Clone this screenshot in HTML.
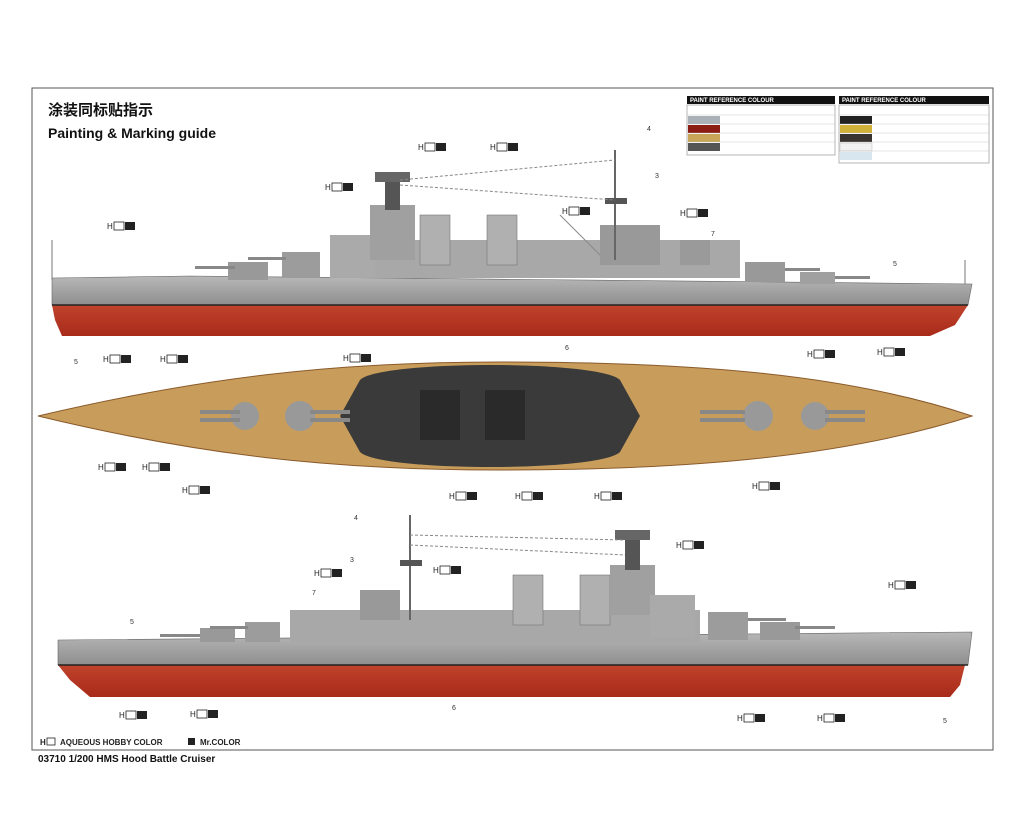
<!DOCTYPE html>
<html><head><meta charset="utf-8"><style>
body{margin:0;background:#fff;}
svg{display:block;font-family:"Liberation Sans","Noto Sans CJK SC",sans-serif;}
</style></head><body>
<svg width="1024" height="838" viewBox="0 0 1024 838" xmlns="http://www.w3.org/2000/svg">
<defs>
<linearGradient id="red" x1="0" y1="0" x2="0" y2="1"><stop offset="0" stop-color="#c0432c"/><stop offset="1" stop-color="#a82a1a"/></linearGradient>
<linearGradient id="grey" x1="0" y1="0" x2="0" y2="1"><stop offset="0" stop-color="#b8b8b8"/><stop offset="1" stop-color="#8e8e8e"/></linearGradient>
<g id="lbl"><text x="0" y="0" font-size="8" fill="#222">H</text><rect x="7" y="-7" width="10" height="8" fill="#fff" stroke="#222" stroke-width="0.8"/><rect x="18" y="-7" width="10" height="8" fill="#222"/></g>
</defs>
<rect x="32" y="88" width="961" height="662" fill="#fff" stroke="#555" stroke-width="1"/>
<text x="48" y="115" font-size="15" font-weight="bold" fill="#111">涂装同标贴指示</text>
<text x="48" y="138" font-size="14" font-weight="bold" fill="#111">Painting &amp; Marking guide</text>

<!-- paint tables -->
<g font-size="6" font-weight="bold">
<rect x="687" y="96" width="148" height="8" fill="#111"/><text x="690" y="102" fill="#fff">PAINT REFERENCE COLOUR</text>
<rect x="687" y="105" width="148" height="50" fill="#fff" stroke="#888" stroke-width="0.6"/>
<rect x="688" y="116" width="32" height="8" fill="#aab0b8"/><rect x="688" y="125" width="32" height="8" fill="#8a1c14"/><rect x="688" y="134" width="32" height="8" fill="#c9a55a"/><rect x="688" y="143" width="32" height="8" fill="#555"/>
<rect x="839" y="96" width="150" height="8" fill="#111"/><text x="842" y="102" fill="#fff">PAINT REFERENCE COLOUR</text>
<rect x="839" y="105" width="150" height="58" fill="#fff" stroke="#888" stroke-width="0.6"/>
<rect x="840" y="116" width="32" height="8" fill="#222"/><rect x="840" y="125" width="32" height="8" fill="#d0b23a"/><rect x="840" y="134" width="32" height="8" fill="#3a3430"/><rect x="840" y="143" width="32" height="8" fill="#f2f2f2" stroke="#aaa" stroke-width="0.4"/><rect x="840" y="152" width="32" height="8" fill="#d8e6f0"/>
</g>
<g stroke="#bbb" stroke-width="0.4"><line x1="687" y1="115" x2="835" y2="115"/><line x1="687" y1="124" x2="835" y2="124"/><line x1="687" y1="133" x2="835" y2="133"/><line x1="687" y1="142" x2="835" y2="142"/>
<line x1="839" y1="115" x2="989" y2="115"/><line x1="839" y1="124" x2="989" y2="124"/><line x1="839" y1="133" x2="989" y2="133"/><line x1="839" y1="142" x2="989" y2="142"/><line x1="839" y1="151" x2="989" y2="151"/></g>

<!-- TOP SHIP -->
<g>
<path d="M52 278 L190 276 L972 284 L968 305 L52 305 Z" fill="url(#grey)" stroke="#666" stroke-width="0.6"/>
<path d="M52 305 L968 305 L955 325 L930 336 L62 336 L55 320 Z" fill="url(#red)"/>
<line x1="52" y1="305" x2="968" y2="305" stroke="#222" stroke-width="1.5"/>
<rect x="330" y="240" width="410" height="38" fill="#a8a8a8"/>
<rect x="228" y="262" width="40" height="18" fill="#999"/><rect x="195" y="266" width="40" height="3" fill="#888"/>
<rect x="282" y="252" width="38" height="26" fill="#9c9c9c"/><rect x="248" y="257" width="38" height="3" fill="#888"/>
<rect x="330" y="235" width="45" height="42" fill="#aaa"/>
<rect x="370" y="205" width="45" height="55" fill="#a0a0a0"/>
<rect x="385" y="180" width="15" height="30" fill="#555"/><rect x="375" y="172" width="35" height="10" fill="#666"/>
<rect x="420" y="215" width="30" height="50" fill="#b0b0b0" stroke="#777" stroke-width="0.6"/>
<rect x="487" y="215" width="30" height="50" fill="#b0b0b0" stroke="#777" stroke-width="0.6"/>
<rect x="600" y="225" width="60" height="40" fill="#999"/>
<line x1="615" y1="150" x2="615" y2="260" stroke="#666" stroke-width="2"/>
<rect x="605" y="198" width="22" height="6" fill="#555"/>
<rect x="680" y="240" width="30" height="25" fill="#9a9a9a"/>
<rect x="745" y="262" width="40" height="20" fill="#999"/><rect x="785" y="268" width="35" height="3" fill="#888"/>
<rect x="800" y="272" width="35" height="12" fill="#a0a0a0"/><rect x="835" y="276" width="35" height="3" fill="#888"/>
<line x1="52" y1="240" x2="52" y2="280" stroke="#777"/><line x1="965" y1="260" x2="965" y2="284" stroke="#777"/>
<path d="M400 180 L615 160 M400 185 L615 200" stroke="#888" stroke-dasharray="3 2" fill="none"/>
<path d="M560 215 L600 255" stroke="#888"/>
</g>

<!-- TOP-DOWN -->
<path d="M38 416 C200 378 330 362 500 362 C700 362 850 375 972 416 C850 455 700 470 500 470 C330 470 200 455 38 416 Z" fill="#c89d5c" stroke="#8a5a2a"/>
<path d="M360 380 C380 360 600 360 620 380 L640 416 L620 452 C600 472 380 472 360 452 L340 416 Z" fill="#3a3a3a"/>
<rect x="420" y="390" width="40" height="50" fill="#2a2a2a"/><rect x="485" y="390" width="40" height="50" fill="#2a2a2a"/>
<circle cx="245" cy="416" r="14" fill="#999"/><rect x="200" y="410" width="40" height="4" fill="#888"/><rect x="200" y="418" width="40" height="4" fill="#888"/>
<circle cx="300" cy="416" r="15" fill="#999"/><rect x="310" y="410" width="40" height="4" fill="#888"/><rect x="310" y="418" width="40" height="4" fill="#888"/>
<circle cx="758" cy="416" r="15" fill="#999"/><rect x="700" y="410" width="45" height="4" fill="#888"/><rect x="700" y="418" width="45" height="4" fill="#888"/>
<circle cx="815" cy="416" r="14" fill="#999"/><rect x="825" y="410" width="40" height="4" fill="#888"/><rect x="825" y="418" width="40" height="4" fill="#888"/>

<!-- BOTTOM SHIP -->
<g>
<path d="M58 640 L972 632 L968 665 L58 665 Z" fill="url(#grey)" stroke="#666" stroke-width="0.6"/>
<path d="M58 665 L965 665 L960 685 L950 697 L90 697 L70 680 Z" fill="url(#red)"/>
<line x1="58" y1="665" x2="968" y2="665" stroke="#222" stroke-width="1.5"/>
<rect x="290" y="610" width="410" height="32" fill="#a8a8a8"/>
<rect x="200" y="628" width="35" height="14" fill="#999"/><rect x="160" y="634" width="40" height="3" fill="#888"/>
<rect x="245" y="622" width="35" height="20" fill="#9c9c9c"/><rect x="210" y="626" width="38" height="3" fill="#888"/>
<rect x="360" y="590" width="40" height="30" fill="#999"/>
<line x1="410" y1="515" x2="410" y2="620" stroke="#666" stroke-width="2"/>
<rect x="400" y="560" width="22" height="6" fill="#555"/>
<rect x="513" y="575" width="30" height="50" fill="#b0b0b0" stroke="#777" stroke-width="0.6"/>
<rect x="580" y="575" width="30" height="50" fill="#b0b0b0" stroke="#777" stroke-width="0.6"/>
<rect x="610" y="565" width="45" height="50" fill="#a0a0a0"/>
<rect x="625" y="540" width="15" height="30" fill="#555"/><rect x="615" y="530" width="35" height="10" fill="#666"/>
<rect x="650" y="595" width="45" height="42" fill="#aaa"/>
<rect x="708" y="612" width="40" height="28" fill="#9c9c9c"/><rect x="748" y="618" width="38" height="3" fill="#888"/>
<rect x="760" y="622" width="40" height="18" fill="#999"/><rect x="795" y="626" width="40" height="3" fill="#888"/>
<path d="M410 535 L625 540 M410 545 L625 555" stroke="#888" stroke-dasharray="3 2" fill="none"/>
</g>

<!-- labels -->
<use href="#lbl" x="418" y="150"/><use href="#lbl" x="490" y="150"/><use href="#lbl" x="325" y="190"/>
<use href="#lbl" x="107" y="229"/><use href="#lbl" x="562" y="214"/><use href="#lbl" x="680" y="216"/>
<use href="#lbl" x="103" y="362"/><use href="#lbl" x="160" y="362"/><use href="#lbl" x="343" y="361"/>
<use href="#lbl" x="807" y="357"/><use href="#lbl" x="877" y="355"/>
<use href="#lbl" x="98" y="470"/><use href="#lbl" x="142" y="470"/><use href="#lbl" x="182" y="493"/>
<use href="#lbl" x="449" y="499"/><use href="#lbl" x="515" y="499"/><use href="#lbl" x="594" y="499"/><use href="#lbl" x="752" y="489"/>
<use href="#lbl" x="676" y="548"/><use href="#lbl" x="433" y="573"/><use href="#lbl" x="314" y="576"/><use href="#lbl" x="888" y="588"/>
<use href="#lbl" x="119" y="718"/><use href="#lbl" x="190" y="717"/><use href="#lbl" x="737" y="721"/><use href="#lbl" x="817" y="721"/>
<g font-size="7" fill="#333"><text x="647" y="131">4</text><text x="655" y="178">3</text><text x="711" y="236">7</text><text x="893" y="266">5</text><text x="74" y="364">5</text><text x="565" y="350">6</text>
<text x="354" y="520">4</text><text x="350" y="562">3</text><text x="312" y="595">7</text><text x="130" y="624">5</text><text x="452" y="710">6</text><text x="943" y="723">5</text></g>

<text x="40" y="745" font-size="8" font-weight="bold" fill="#222">H</text><rect x="47" y="738" width="8" height="7" fill="#fff" stroke="#222" stroke-width="0.8"/>
<text x="60" y="745" font-size="8" font-weight="bold" fill="#222">AQUEOUS HOBBY COLOR</text>
<rect x="188" y="738" width="7" height="7" fill="#222"/><text x="200" y="745" font-size="8" font-weight="bold" fill="#222">Mr.COLOR</text>
<text x="38" y="762" font-size="10" font-weight="bold" fill="#111">03710  1/200  HMS Hood Battle Cruiser</text>
</svg>
</body></html>
